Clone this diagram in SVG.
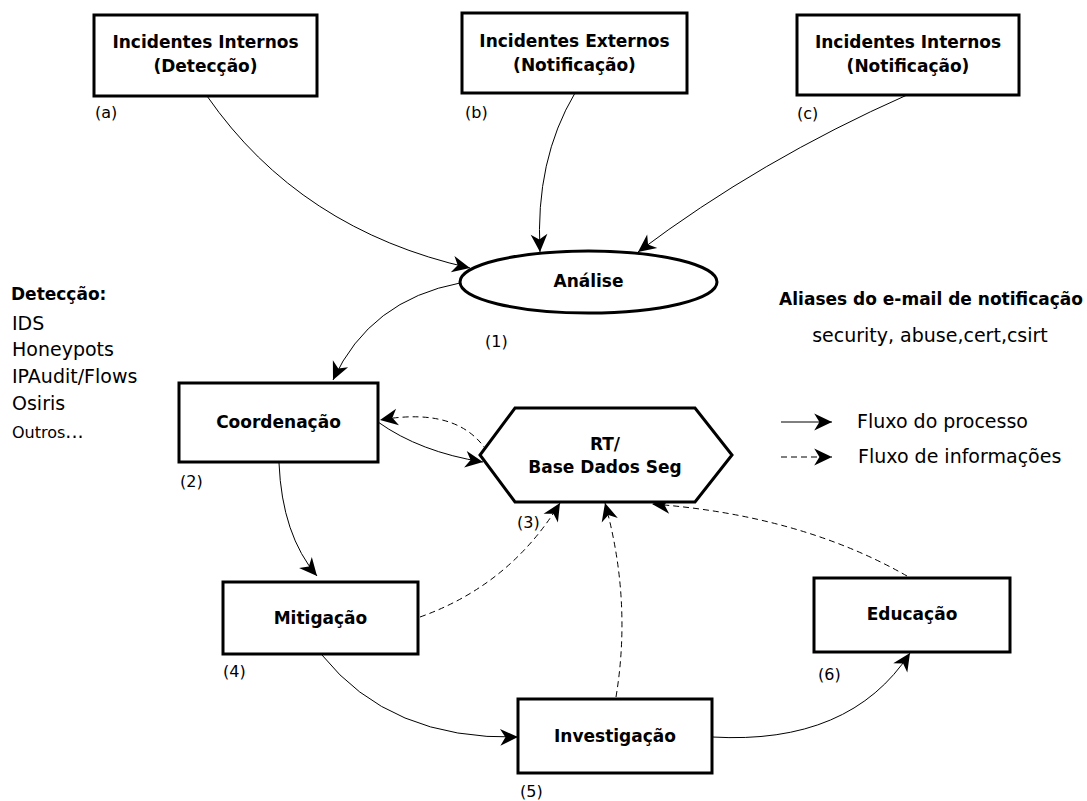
<svg xmlns="http://www.w3.org/2000/svg" width="1087" height="801" viewBox="0 0 1087 801">
<style>
.box{fill:#fff;stroke:#000;stroke-width:3}
.lbl{font-family:"DejaVu Sans",sans-serif;font-weight:bold;font-size:17px;fill:#000;text-anchor:middle}
.num{font-family:"DejaVu Sans",sans-serif;font-size:16px;fill:#000}
.txt{font-family:"DejaVu Sans",sans-serif;font-size:19px;fill:#000}
.c{fill:none;stroke:#000;stroke-width:1;marker-end:url(#ah)}
.d{stroke-dasharray:6,4}
</style>
<defs>
<marker id="ah" markerUnits="userSpaceOnUse" markerWidth="22" markerHeight="22" viewBox="-19 -10 21 20" refX="0" refY="0" orient="auto">
<path d="M0,0 L-17,-8 L-12,0 L-17,8 Z" fill="#000"/>
</marker>
</defs>
<rect width="1087" height="801" fill="#fff"/>
<g id="connectors">
<path class="c" d="M207,96 Q300,230 470,268"/>
<path class="c" d="M575,93 Q535,160 540,252"/>
<path class="c" d="M907,95 Q760,160 638,252"/>
<path class="c" d="M460,283 Q370,300 333,380"/>
<path class="c" d="M378,422 Q420,452 483,462"/>
<path class="c d" d="M492,460 Q465,405 380,420"/>
<path class="c" d="M279,463 Q282,535 317,576"/>
<path class="c d" d="M420,617 Q510,585 560,503"/>
<path class="c" d="M322,655 Q390,740 518,737"/>
<path class="c d" d="M616,697 Q632,600 605,503"/>
<path class="c" d="M712,737 Q850,745 910,653"/>
<path class="c d" d="M907,576 Q800,515 652,504"/>
</g>
<g id="node-a">
<rect class="box" x="94" y="15" width="223" height="81"/>
<text class="lbl" x="205.5" y="48">Incidentes Internos</text>
<text class="lbl" x="205.5" y="72">(Detecção)</text>
<text class="num" x="95" y="118">(a)</text>
</g>
<g id="node-b">
<rect class="box" x="462" y="13" width="225" height="80"/>
<text class="lbl" x="574.5" y="47">Incidentes Externos</text>
<text class="lbl" x="574.5" y="71">(Notificação)</text>
<text class="num" x="465" y="118">(b)</text>
</g>
<g id="node-c">
<rect class="box" x="797" y="15" width="222" height="80"/>
<text class="lbl" x="908" y="48">Incidentes Internos</text>
<text class="lbl" x="908" y="72">(Notificação)</text>
<text class="num" x="797" y="119">(c)</text>
</g>
<g id="node-analise">
<ellipse class="box" cx="588.5" cy="282" rx="128.5" ry="31"/>
<text class="lbl" x="588.5" y="287">Análise</text>
<text class="num" x="485" y="347">(1)</text>
</g>
<g id="node-coordenacao">
<rect class="box" x="179" y="383" width="199" height="79"/>
<text class="lbl" x="278.5" y="428">Coordenação</text>
<text class="num" x="180" y="487">(2)</text>
</g>
<g id="node-rt">
<polygon class="box" points="515,408 695,408 732,455 695,502 515,502 480,455"/>
<text class="lbl" x="605" y="450">RT/</text>
<text class="lbl" x="605" y="473">Base Dados Seg</text>
<text class="num" x="517" y="528">(3)</text>
</g>
<g id="node-mitigacao">
<rect class="box" x="223" y="582" width="195" height="72"/>
<text class="lbl" x="320.5" y="624">Mitigação</text>
<text class="num" x="223" y="677">(4)</text>
</g>
<g id="node-investigacao">
<rect class="box" x="518" y="699" width="194" height="74"/>
<text class="lbl" x="615" y="742">Investigação</text>
<text class="num" x="520" y="797">(5)</text>
</g>
<g id="node-educacao">
<rect class="box" x="814" y="578" width="196" height="74"/>
<text class="lbl" x="912" y="620">Educação</text>
<text class="num" x="818" y="680">(6)</text>
</g>
<g id="deteccao">
<text class="lbl" x="11" y="300" style="text-anchor:start">Detecção:</text>
<text class="txt" x="12" y="330">IDS</text>
<text class="txt" x="12" y="356">Honeypots</text>
<text class="txt" x="12" y="383">IPAudit/Flows</text>
<text class="txt" x="12" y="410">Osiris</text>
<text class="txt" x="12" y="438"><tspan font-size="16">Outros</tspan>...</text>
</g>
<g id="aliases">
<text class="lbl" x="931" y="305">Aliases do e-mail de notificação</text>
<text class="txt" x="930" y="342" style="text-anchor:middle">security, abuse,cert,csirt</text>
</g>
<g id="legend">
<path class="c" d="M781,422 L832,422"/>
<path class="c d" d="M781,457 L832,457"/>
<text class="txt" x="857" y="428">Fluxo do processo</text>
<text class="txt" x="858" y="463">Fluxo de informações</text>
</g>
</svg>
